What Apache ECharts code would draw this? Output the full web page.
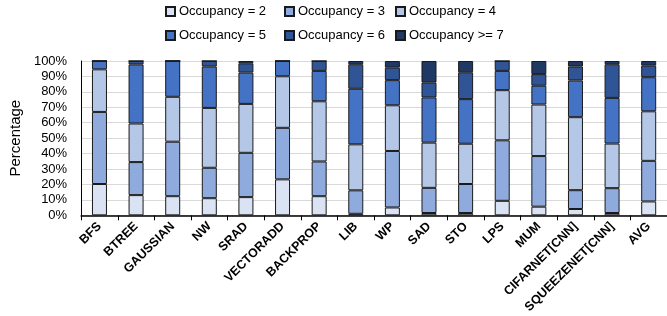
<!DOCTYPE html>
<html>
<head>
<meta charset="utf-8">
<script src="https://cdn.jsdelivr.net/npm/echarts@6/dist/echarts.min.js"></script>
<style>
  html, body { margin: 0; padding: 0; background: #fff; }
  #main { width: 667px; height: 316px; }
</style>
</head>
<body>
<div id="main"></div>
<script>
var categories = ['BFS', 'BTREE', 'GAUSSIAN', 'NW', 'SRAD', 'VECTORADD', 'BACKPROP', 'LIB', 'WP', 'SAD',
    'STO', 'LPS', 'MUM', 'CIFARNET[CNN]', 'SQUEEZENET[CNN]', 'AVG'];

var seriesNames = ['Occupancy = 2', 'Occupancy = 3', 'Occupancy = 4',
    'Occupancy = 5', 'Occupancy = 6', 'Occupancy >= 7'];

// percentages per category
var occ2 = [20.3, 13.1, 12.4, 11.1, 11.8, 23.3, 12.4, 1.0, 5.1, 1.5, 1.5, 9.4, 5.6, 4.1, 1.5, 9.0];
var occ3 = [46.7, 21.4, 35.3, 19.7, 28.7, 33.4, 22.5, 15.2, 36.6, 16.3, 18.8, 39.2, 32.8, 12.2, 16.1, 26.3];
var occ4 = [27.6, 25.0, 29.1, 38.8, 31.7, 33.4, 39.0, 29.8, 29.6, 29.3, 26.1, 32.5, 33.4, 47.3, 28.9, 32.1];
var occ5 = [5.4, 38.3, 23.2, 26.8, 20.3, 9.9, 19.7, 36.0, 16.3, 29.3, 28.9, 12.5, 12.2, 23.8, 29.6, 22.1];
var occ6 = [0, 2.2, 0, 3.6, 6.0, 0, 6.4, 15.9, 8.1, 9.6, 17.4, 6.4, 7.5, 9.0, 21.8, 7.5];
var occ7 = [0, 0, 0, 0, 1.5, 0, 0, 2.1, 4.3, 14.0, 7.3, 0, 8.5, 3.6, 2.1, 3.0];

var yTicks = [0, 10, 20, 30, 40, 50, 60, 70, 80, 90, 100];

var colors = ['#dae3f3', '#8faadc', '#b4c7e7', '#4472c4', '#2f5597', '#203864'];
var allData = [occ2, occ3, occ4, occ5, occ6, occ7];

var chartDom = document.getElementById('main');
var myChart = echarts.init(chartDom);
var option;

var series = seriesNames.map(function (name, i) {
    return {
        name: name,
        type: 'bar',
        stack: 'total',
        barWidth: 15,
        data: allData[i],
        itemStyle: {
            color: colors[i],
            borderColor: '#1a1a1a',
            borderWidth: 1
        }
    };
});

// one legend per item so the columns line up like the original
var legendLeft = [165, 284, 395];
var legendTop = [5, 29];
var legends = seriesNames.map(function (name, i) {
    return {
        left: legendLeft[i % 3],
        top: legendTop[Math.floor(i / 3)],
        padding: 0,
        itemWidth: 9,
        itemHeight: 9,
        itemGap: 0,
        icon: 'rect',
        data: [name],
        textStyle: { fontSize: 13, color: '#000', padding: [0, 0, 0, -1] }
    };
});

option = {
    animation: false,
    textStyle: { fontFamily: 'Liberation Sans' },
    legend: legends,
    // plot runs a little past the right edge in the original
    grid: {
        left: 76,
        width: 594,
        top: 61,
        bottom: 100
    },
    xAxis: {
        type: 'category',
        data: categories,
        axisLine: { lineStyle: { color: '#000', width: 1.5 } },
        axisTick: { show: true, length: 5, lineStyle: { color: '#000' } },
        axisLabel: {
            rotate: 45,
            interval: 0,
            fontSize: 12.5,
            fontWeight: 'bold',
            color: '#000',
            margin: 9
        }
    },
    yAxis: {
        type: 'value',
        min: 0,
        max: 100,
        interval: 10,
        name: 'Percentage',
        nameLocation: 'middle',
        nameGap: 50,
        nameTextStyle: { fontSize: 15, color: '#000' },
        axisLine: { show: true, lineStyle: { color: '#000', width: 1 } },
        axisTick: { show: false },
        splitLine: { lineStyle: { color: '#d9d9d9' } },
        axisLabel: {
            fontSize: 13,
            color: '#000',
            margin: 14,
            formatter: function (v) {
                return yTicks.indexOf(v) >= 0 ? v + '%' : '';
            }
        }
    },
    series: series
};

option && myChart.setOption(option);
</script>
</body>
</html>
